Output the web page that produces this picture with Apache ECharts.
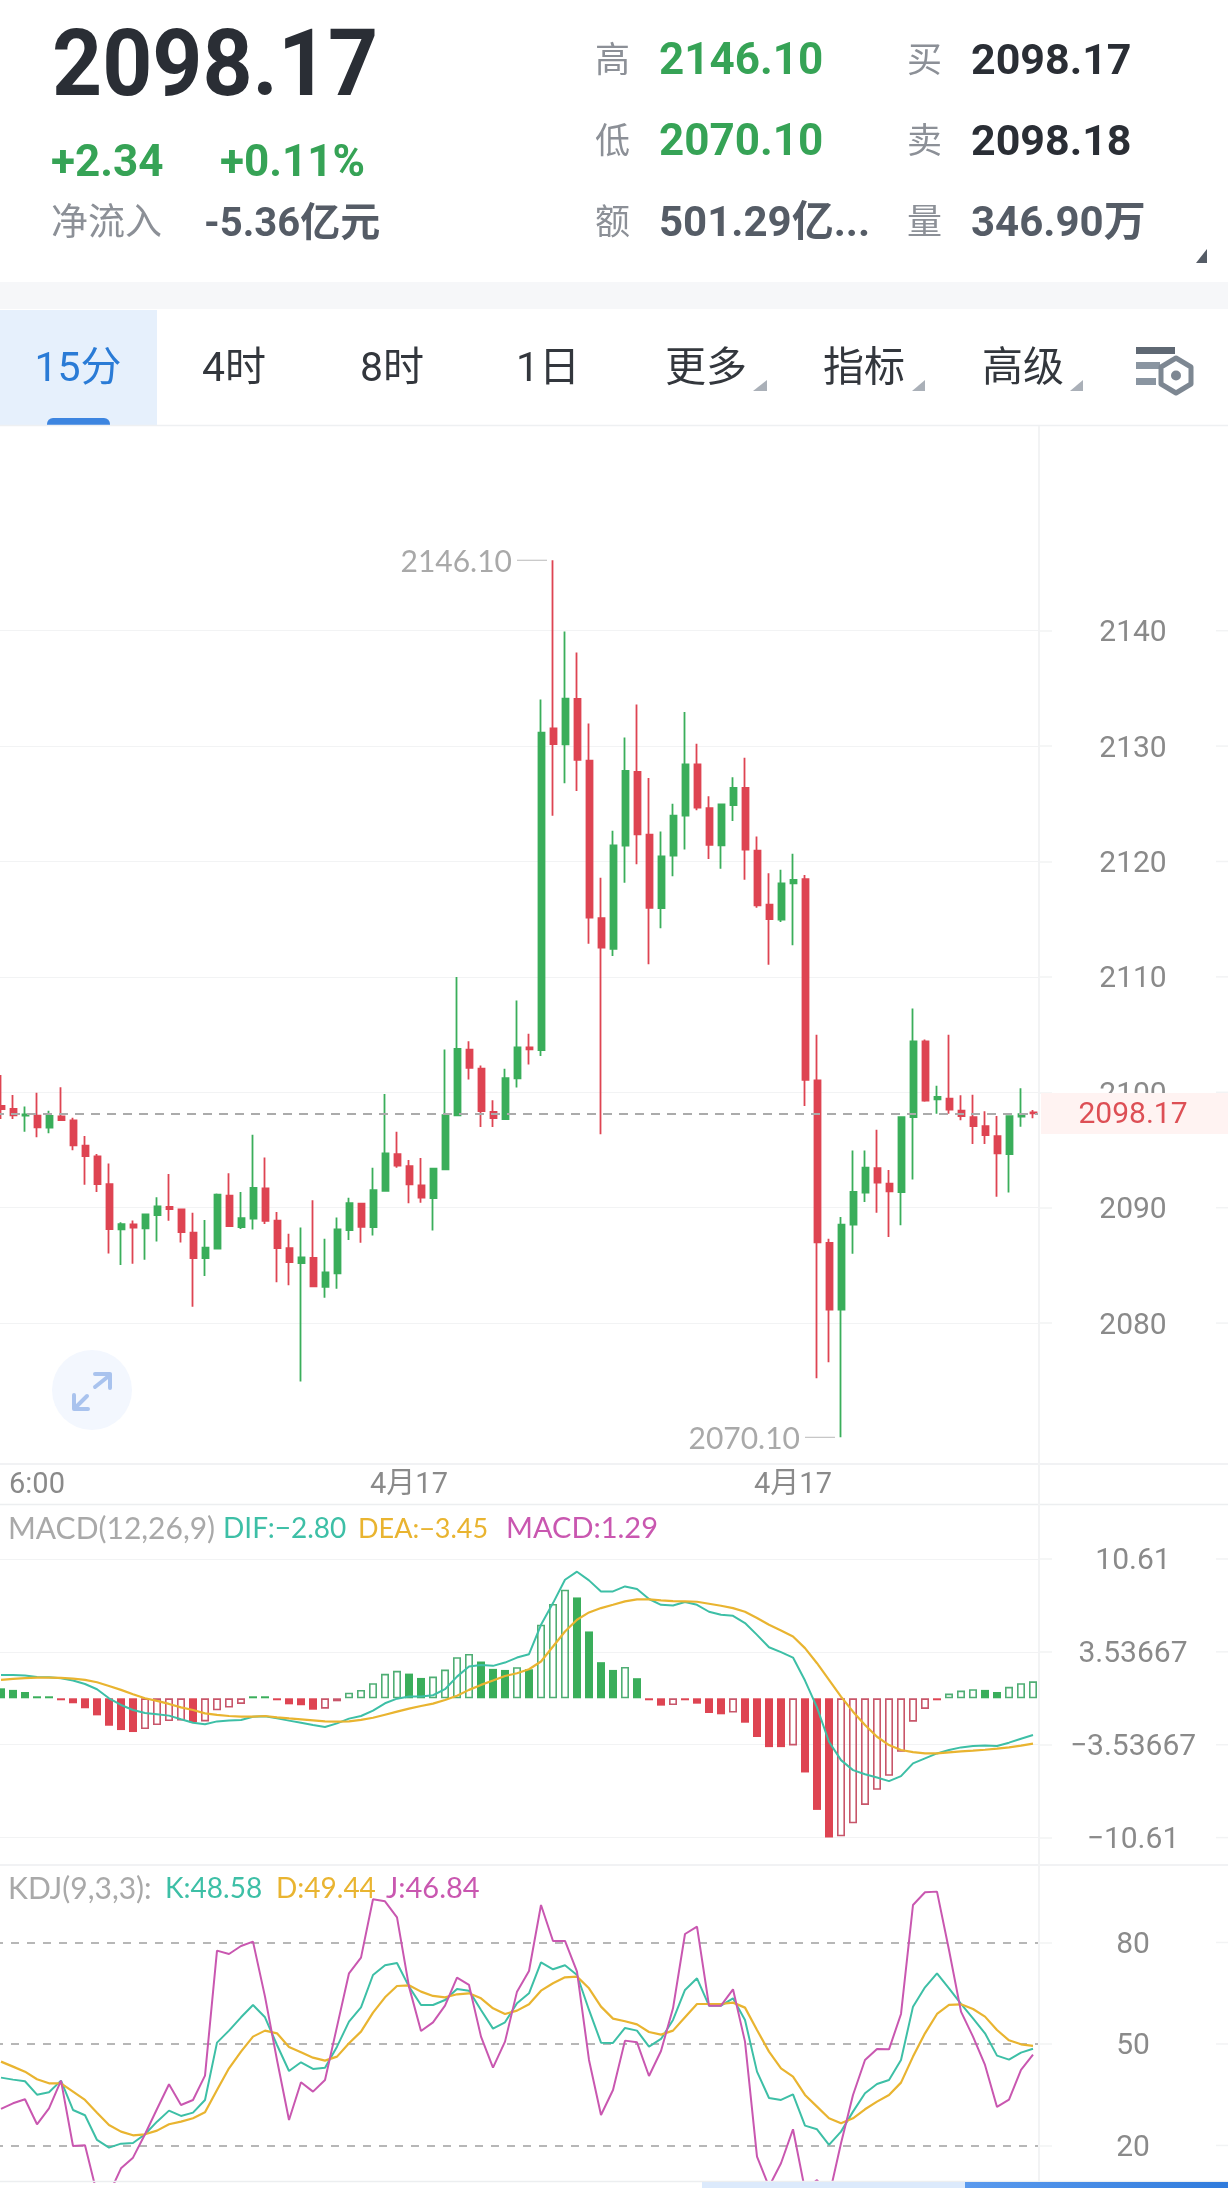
<!DOCTYPE html>
<html><head><meta charset="utf-8">
<style>html,body{margin:0;padding:0;background:#fff}#c{width:1228px;height:2188px}</style>
<script src="https://cdn.jsdelivr.net/npm/echarts@6/dist/echarts.min.js"></script>
</head><body><div id="c"></div>
<script>
// ---- header and tab texts
const lastPrice='2098.17', change='+2.34', changePct='+0.11%', netFlowLabel='净流入', netFlow='-5.36亿元';
const statRows=[['高','2146.10','买','2098.17'],['低','2070.10','卖','2098.18'],['额','501.29亿...','量','346.90万']];
const tabs=['15分','4时','8时','1日','更多','指标','高级'];
// ---- axis ticks
const xTickLabels={3:'6:00',34:'4月17',66:'4月17'};
const priceTicks=[2080,2090,2100,2110,2120,2130,2140];
const macdTicks=[10.61,3.53667,-3.53667,-10.61];
const kdjTicks=[80,50,20];
// ---- candles, oldest first
const opens=[2098.82,2098.55,2097.98,2097.98,2096.94,2097.92,2097.57,2095.38,2094.45,2092.05,2088.12,2088.55,2088.21,2089.36,2090.06,2089.86,2087.83,2085.64,2086.45,2091.04,2088.32,2089.05,2091.68,2088.87,2086.50,2085.20,2085.64,2083.15,2084.31,2088.06,2090.35,2088.32,2091.47,2094.65,2093.61,2091.94,2090.84,2093.32,2098.01,2103.70,2102.05,2098.29,2097.67,2101.20,2103.90,2103.66,2131.54,2130.14,2134.08,2128.73,2115.10,2112.43,2121.37,2127.77,2122.33,2115.96,2120.51,2123.97,2128.42,2124.63,2121.39,2124.88,2126.38,2120.93,2116.25,2114.96,2118.10,2118.46,2101.03,2086.94,2081.18,2088.53,2091.31,2093.42,2092.08,2091.36,2097.84,2104.42,2099.38,2099.44,2098.41,2097.84,2097.07,2096.19,2094.65,2097.89,2098.25];
const closes=[2098.55,2098.01,2098.09,2096.97,2097.95,2097.60,2095.40,2094.48,2092.05,2088.15,2088.58,2088.27,2089.42,2090.12,2089.88,2087.89,2085.64,2086.53,2091.13,2088.41,2089.10,2091.71,2088.87,2086.50,2085.29,2085.69,2083.18,2084.39,2088.12,2090.40,2088.35,2091.53,2094.71,2093.64,2092.02,2090.87,2093.38,2098.03,2103.77,2102.12,2098.36,2097.77,2101.23,2103.90,2103.73,2131.16,2130.17,2134.11,2128.80,2115.14,2112.53,2121.40,2127.84,2122.36,2115.99,2120.45,2123.97,2128.42,2124.66,2121.44,2124.94,2126.38,2121.03,2116.20,2115.01,2118.10,2118.41,2101.08,2086.99,2081.18,2088.53,2091.36,2093.47,2092.18,2091.41,2097.84,2104.42,2099.28,2099.59,2098.51,2097.94,2097.07,2096.30,2094.70,2097.94,2098.10,2098.17];
const lows=[2097.69,2097.69,2096.59,2096.10,2096.45,2097.57,2094.97,2091.99,2091.36,2086.04,2085.03,2085.14,2085.49,2087.08,2088.87,2086.99,2081.42,2084.08,2086.39,2088.41,2088.15,2088.12,2088.58,2083.55,2083.29,2074.94,2083.18,2082.20,2082.98,2087.20,2086.97,2087.60,2091.47,2093.47,2090.38,2090.43,2088.03,2093.32,2098.01,2101.10,2096.99,2096.99,2097.67,2100.41,2102.40,2103.15,2123.97,2126.78,2126.10,2112.88,2096.37,2111.82,2118.15,2119.76,2111.10,2114.21,2118.73,2121.03,2124.45,2120.21,2119.38,2123.50,2118.41,2115.99,2111.05,2114.76,2112.75,2098.82,2075.22,2076.61,2070.10,2086.01,2090.49,2089.56,2087.46,2088.48,2092.44,2099.18,2098.15,2098.15,2097.58,2095.53,2095.53,2090.95,2091.31,2097.02,2097.74];
const highs=[2101.50,2099.77,2098.76,2099.97,2098.41,2100.43,2097.80,2096.21,2094.65,2093.84,2088.73,2088.90,2089.42,2090.90,2092.92,2089.86,2089.57,2088.93,2091.24,2092.98,2091.36,2096.33,2094.36,2089.62,2087.75,2088.29,2090.64,2087.31,2089.16,2090.87,2090.38,2093.47,2099.86,2096.59,2094.13,2094.31,2093.38,2103.70,2110.00,2104.42,2102.33,2099.32,2102.05,2107.95,2105.07,2134.04,2146.10,2139.93,2138.12,2131.95,2118.60,2122.67,2130.75,2133.60,2127.23,2122.60,2125.00,2132.95,2130.21,2125.66,2124.99,2127.30,2129.00,2122.16,2118.97,2119.28,2120.67,2118.82,2104.99,2087.30,2089.20,2094.96,2094.96,2096.76,2093.26,2097.84,2107.25,2104.58,2100.57,2104.99,2099.74,2099.79,2098.35,2097.94,2097.94,2100.36,2098.46];
// ---- MACD
const macdHist=[0.76,0.64,0.48,0.10,0.08,-0.05,-0.38,-0.76,-1.30,-2.09,-2.42,-2.57,-2.34,-2.04,-1.73,-1.70,-1.83,-1.76,-0.92,-0.71,-0.43,0.05,0.05,-0.10,-0.46,-0.53,-0.87,-0.79,-0.23,0.43,0.64,1.15,1.86,2.09,1.88,1.55,1.65,2.19,3.13,3.38,2.80,2.24,2.16,2.37,2.21,5.60,7.18,8.27,7.68,5.09,2.75,2.16,2.39,1.53,-0.05,-0.56,-0.51,-0.03,-0.41,-1.12,-1.22,-1.09,-1.86,-2.95,-3.72,-3.72,-3.59,-5.65,-8.50,-10.61,-10.51,-9.52,-8.12,-6.97,-5.90,-4.07,-1.78,-0.81,-0.05,0.36,0.59,0.69,0.64,0.48,0.87,1.15,1.29];
const dif=[1.78,1.78,1.73,1.63,1.60,1.53,1.35,1.09,0.69,0,-0.51,-0.89,-1.12,-1.22,-1.32,-1.60,-1.86,-1.98,-1.76,-1.70,-1.65,-1.40,-1.37,-1.53,-1.70,-1.86,-2.04,-2.19,-1.91,-1.55,-1.35,-0.94,-0.38,-0.03,0.13,0.13,0.23,0.69,1.65,2.42,2.54,2.47,2.72,3.10,3.36,5.60,7.25,9.03,9.64,8.98,8.14,8.14,8.52,8.32,7.56,7.12,7.07,7.33,7.12,6.59,6.36,6.28,5.73,4.83,3.89,3.51,3.10,1.35,-0.69,-3.31,-4.71,-5.47,-5.78,-6.03,-6.31,-5.93,-4.96,-4.58,-4.20,-3.94,-3.74,-3.64,-3.59,-3.64,-3.38,-3.08,-2.80];
const dea=[1.40,1.48,1.53,1.58,1.58,1.55,1.50,1.40,1.22,0.94,0.64,0.31,0,-0.20,-0.43,-0.69,-0.89,-1.15,-1.27,-1.35,-1.40,-1.40,-1.35,-1.45,-1.53,-1.60,-1.68,-1.76,-1.78,-1.76,-1.65,-1.48,-1.25,-1.02,-0.79,-0.59,-0.41,-0.13,0.20,0.64,1.02,1.35,1.70,1.91,2.21,2.80,3.94,5.09,5.98,6.54,6.87,7.12,7.38,7.53,7.53,7.46,7.40,7.38,7.35,7.20,7.05,6.87,6.59,6.11,5.60,5.17,4.71,3.82,2.67,1.40,0.13,-1.02,-2.04,-2.93,-3.56,-3.94,-4.10,-4.20,-4.20,-4.12,-4.05,-3.99,-3.92,-3.84,-3.74,-3.61,-3.45];
// ---- KDJ
const kLine=[40.05,39.46,38.97,35.02,35.71,39.16,30.49,28.92,21.63,19.36,20.54,20.74,23.30,27.04,30.30,28.72,29.70,33.45,50.39,53.94,57.88,61.53,57.88,49.70,42.02,44.58,42.61,43.00,49.21,56.60,60.84,70.39,73.25,73.94,66.95,61.53,61.53,63.00,66.26,65.76,60.05,54.53,56.40,62.02,64.98,74.14,72.07,73.25,70.39,60.05,50.39,50.30,54.73,53.94,49.21,51.48,57.09,65.96,69.41,61.33,61.33,63.50,57.09,41.82,34.04,33.45,35.12,25.86,24.78,20.15,24.09,30.00,35.42,38.18,39.36,45.27,61.03,66.75,70.89,66.45,61.82,57.59,53.15,46.55,45.37,47.44,48.58];
const dLine=[44.78,43.30,41.82,39.56,38.37,38.37,35.91,33.45,29.70,26.06,24.09,23.00,23.30,24.38,26.26,27.04,28.03,29.80,36.40,42.81,47.73,52.17,53.94,53.15,49.11,47.54,45.96,45.07,46.26,50.20,53.65,59.26,63.79,67.14,67.34,65.47,64.19,63.79,64.68,64.98,63.50,60.54,58.87,59.85,61.72,65.76,67.93,69.70,69.90,66.45,61.03,57.49,56.70,55.81,53.55,52.76,53.94,57.88,61.82,61.82,61.82,62.22,60.74,54.14,47.73,42.81,40.34,34.93,31.48,28.03,26.55,28.03,30.69,32.96,34.93,38.57,46.26,53.15,58.87,61.53,61.72,60.34,58.08,54.14,51.08,49.90,49.44];
const jLine=[30.79,32.46,33.65,26.26,30.99,39.16,19.85,20.05,5.76,5.57,13.25,16.40,23.30,30.79,38.08,31.97,33.45,40.64,77.59,76.60,78.97,80.25,63.99,45.27,27.54,38.67,35.91,39.36,55.12,70.89,75.52,92.76,92.17,87.44,66.95,53.84,56.40,61.33,69.61,67.44,52.17,43.00,50.69,65.47,71.58,91.08,80.44,80.44,71.38,45.27,29.01,36.40,50.99,50.49,40.54,47.93,60.54,82.51,84.68,61.33,61.33,66.16,50.69,16.70,7.83,14.73,24.78,6.85,9.80,4.88,20.64,34.93,45.27,48.52,48.42,58.87,91.08,94.83,95.03,77.78,59.56,52.17,43.79,31.38,33.55,42.32,46.84];

const RED='#de4452',GREEN='#3aae5b',TEAL='#3dbfa6',AMBER='#e9b430',MAG='#c957b0',AXIS='#8a8a8a',GRID='#f2f3f4';
const FONT='Roboto,"Noto Sans CJK SC",sans-serif', LBL='Lato,"Noto Sans CJK SC",sans-serif';
const cats=opens.map((_,i)=>xTickLabels[i]||'');
const candleData=opens.map((o,i)=>[o,closes[i],lows[i],highs[i]]);
const histData=macdHist.map((v,i)=>{
  const up=v>=0, hollow=i>0&&v>macdHist[i-1]&&Math.abs(v)>0.15, c=up?GREEN:RED;
  return {value:v,itemStyle:hollow?{color:'rgba(255,255,255,0)',borderColor:up?'#4fae74':'#c8566a',borderWidth:1.6}:{color:c}};
});
const PL=-5, PR=1228-1039;
function xA(g,lab){return {type:'category',gridIndex:g,data:cats,boundaryGap:true,axisLine:{show:false},axisTick:{show:false},splitLine:{show:false},
  axisLabel:lab?{show:true,interval:0,color:AXIS,fontSize:29,fontFamily:FONT,margin:7,hideOverlap:false}:{show:false}};}
function yA(g,min,max,ticks,dashed){return {type:'value',gridIndex:g,position:'right',min,max,scale:true,axisLine:{show:false},
  axisTick:{show:true,length:13,inside:false,customValues:ticks,lineStyle:{color:GRID,width:1.5}},
  axisLabel:{show:true,customValues:ticks,align:'center',margin:94,formatter:v=>'{a|'+String(v).replace('-','\u2212')+'}',
    rich:{a:{color:AXIS,fontSize:30,fontFamily:FONT,padding:[6,0,0,0]}}},
  splitLine:{show:true,lineStyle:dashed?{color:'#ababab',width:1.7,type:[8,8]}:{color:GRID,width:1.2}}};}
const grid=(top,height)=>({left:PL,right:PR,top,height,outerBoundsMode:'none',containLabel:false});
const option={animation:false,backgroundColor:'#fff',
 grid:[grid(427,1037),grid(1505,359),grid(1865,317)],
 xAxis:[xA(0,true),xA(1,false),xA(2,false)],
 yAxis:[yA(0,2067.79,2157.65,priceTicks,false),yA(1,-12.62,14.72,macdTicks,false),yA(2,9.2,102.9,kdjTicks,true)],
 series:[
  {type:'candlestick',xAxisIndex:0,yAxisIndex:0,data:candleData,barWidth:6.5,
   itemStyle:{color:GREEN,color0:RED,borderColor:GREEN,borderColor0:RED,borderWidth:1.8},
   markLine:{silent:true,symbol:'none',animation:false,data:[{yAxis:2098.17}],label:{show:false},lineStyle:{color:'#ababab',width:1.8,type:[9,7]}}},
  {type:'bar',xAxisIndex:1,yAxisIndex:1,data:histData,barWidth:8,barMinHeight:2,z:1},
  {type:'line',xAxisIndex:1,yAxisIndex:1,data:dif,showSymbol:false,lineStyle:{color:TEAL,width:2},z:3},
  {type:'line',xAxisIndex:1,yAxisIndex:1,data:dea,showSymbol:false,lineStyle:{color:AMBER,width:2.2},z:3},
  {type:'line',xAxisIndex:2,yAxisIndex:2,data:kLine,showSymbol:false,lineStyle:{color:TEAL,width:2},z:3},
  {type:'line',xAxisIndex:2,yAxisIndex:2,data:dLine,showSymbol:false,lineStyle:{color:AMBER,width:2.2},z:3},
  {type:'line',xAxisIndex:2,yAxisIndex:2,data:jLine,showSymbol:false,lineStyle:{color:MAG,width:2},z:3}
 ]};
const chart=echarts.init(document.getElementById('c'),null,{renderer:'canvas'});
chart.setOption(option);

function T(text,x,y,font,fill,align,sx){return {type:'text',x,y,z:120,silent:true,scaleX:sx||1,style:{text,font,fill,textAlign:align||'left',textVerticalAlign:'middle'}};}
function R(x,y,w,h,fill,z,r){return {type:'rect',z:z||90,silent:true,shape:{x,y,width:w,height:h,r:r||0},style:{fill}};}
function L(x1,y1,x2,y2,c,w,z){return {type:'line',z:z||5,silent:true,shape:{x1,y1,x2,y2},style:{stroke:c,lineWidth:w||1.5}};}
function P(pts,fill,stroke,w,z,closed){return {type:closed===false?'polyline':'polygon',z:z||100,silent:true,shape:{points:pts},style:fill?{fill}:{stroke,lineWidth:w,fill:null,lineCap:'round',lineJoin:'round'}};}
const el=[];
// header
el.push(R(0,282,1228,27,'#f6f7f9',2));
const H='bold ';
el.push(T(lastPrice,52,72,H+'92px '+FONT,'#2a2e35','left',0.95));
el.push(T(change,51,165,H+'44px '+FONT,'#36a356'));
el.push(T(changePct,220,165,H+'44px '+FONT,'#36a356'));
el.push(T(netFlowLabel,51,226,'37px '+FONT,'#8c9097'));
el.push(T(netFlow,204,226,H+'40px '+FONT,'#555c66'));
const rowY=[63,144,225];
const valCol=[['#36a356','#2a2e35'],['#36a356','#2a2e35'],['#555c66','#555c66']];
const valSize=[[44,43],[44,43],[42,42]];
statRows.forEach((r,i)=>{
  el.push(T(r[0],595,rowY[i],'35px '+FONT,'#8c9097'));
  el.push(T(r[1],659,rowY[i],H+valSize[i][0]+'px '+FONT,valCol[i][0]));
  el.push(T(r[2],907,rowY[i],'35px '+FONT,'#8c9097'));
  el.push(T(r[3],971,rowY[i],H+valSize[i][1]+'px '+FONT,valCol[i][1]));
});
el.push(P([[1207,249],[1207,263],[1196,263]],'#555c66'));
// tabs
el.push(R(0,310,157,115,'#e6f0fc',2));
el.push(R(47,418,63,7,'#3d85e0',3,[6,6,0,0]));
const tabX=[78,234,392,548,706,864,1023];
tabs.forEach((t,i)=>el.push(T(t,tabX[i],371,'41px '+FONT,i?'#33373d':'#2a7bd6','center')));
[[753,767],[912,925],[1070,1083]].forEach(a=>el.push(P([[a[1],380],[a[1],391],[a[0],391]],'#aab0b8')));
// settings icon
el.push(R(1136,347,39,7,'#5f6873',10));el.push(R(1136,362,24,7,'#8a95a1',10));el.push(R(1136,378,20,7,'#8a95a1',10));
el.push(P([[1176,358],[1191,367],[1191,384],[1176,393],[1161,384],[1161,367]],null,'#7d8792',5,11));
el.push({type:'circle',z:11,silent:true,shape:{cx:1176,cy:375.5,r:5},style:{fill:'#7d8792'}});
// separators
el.push(L(0,425.5,1228,425.5,'#eef0f2',1.5));
el.push(L(0,1464,1228,1464,'#eceef0',1.5));
el.push(L(0,1504.5,1228,1504.5,'#eceef0',1.5));
el.push(L(0,1865,1228,1865,'#eceef0',1.5));
el.push(L(1039,426,1039,2182,'#f2f3f4',2));
// tick stubs at the right edge follow the axis scales
[[0,priceTicks],[1,macdTicks],[2,kdjTicks]].forEach(a=>a[1].forEach(v=>{
  const y=chart.convertToPixel({yAxisIndex:a[0]},v);
  el.push(L(1216,y,1228,y,GRID,1.5));
}));
// price tag
const py=chart.convertToPixel({yAxisIndex:0},2098.17);
el.push(R(1041,py-20.5,187,41,'#fff3f2',95));
el.push(T(lastPrice,1133,py+2,'30px '+FONT,'#dd4f55','center'));
// high and low notes
const hi=chart.convertToPixel({xAxisIndex:0,yAxisIndex:0},[46,2146.10]);
const lo=chart.convertToPixel({xAxisIndex:0,yAxisIndex:0},[70,2070.10]);
el.push(L(hi[0]-36,hi[1],hi[0]-6,hi[1],'#c4c4c4',1.2));
el.push(T('2146.10',hi[0]-41,hi[1]+2,'30px '+LBL,'#a9a9a9','right'));
el.push(L(lo[0]-36,lo[1],lo[0]-6,lo[1],'#c4c4c4',1.2));
el.push(T('2070.10',lo[0]-41,lo[1]+2,'30px '+LBL,'#a9a9a9','right'));
// indicator titles
const ty=1529, ky=1889;
el.push(T('MACD(12,26,9)',8,ty,'30px '+LBL,'#a9a9a9'));
el.push(T('DIF:\u22122.80',223,ty,'28px '+LBL,TEAL));
el.push(T('DEA:\u22123.45',358,ty,'27px '+LBL,AMBER));
el.push(T('MACD:1.29',506,ty,'29px '+LBL,MAG));
el.push(T('KDJ(9,3,3):',8,ky,'30px '+LBL,'#a9a9a9'));
el.push(T('K:48.58',165,ky,'28px '+LBL,TEAL));
el.push(T('D:49.44',276,ky,'28px '+LBL,AMBER));
el.push(T('J:46.84',386,ky,'29px '+LBL,MAG));
// expand button
el.push({type:'circle',z:6,silent:true,shape:{cx:92,cy:1390,r:40},style:{fill:'#f3f7fe'}});
el.push(P([[95,1387],[110,1375]],null,'#a9c3ee',4,7,false));
el.push(P([[95,1374],[110,1374],[110,1388]],null,'#a9c3ee',4,7,false));
el.push(P([[87,1396],[75,1408]],null,'#a9c3ee',4,7,false));
el.push(P([[74,1395],[74,1409],[88,1409]],null,'#a9c3ee',4,7,false));
// bottom scrollbar
el.push(L(0,2181.5,1228,2181.5,'#eceef0',1.5,96));
el.push(R(702,2182,263,6,'#dceafc',97));
el.push({type:'rect',z:97,silent:true,shape:{x:965,y:2182,width:263,height:6},style:{fill:new echarts.graphic.LinearGradient(0,0,1,0,[{offset:0,color:'#5a9aee'},{offset:1,color:'#2f7bdc'}])}});
chart.setOption({graphic:{elements:el}});
</script></body></html>
